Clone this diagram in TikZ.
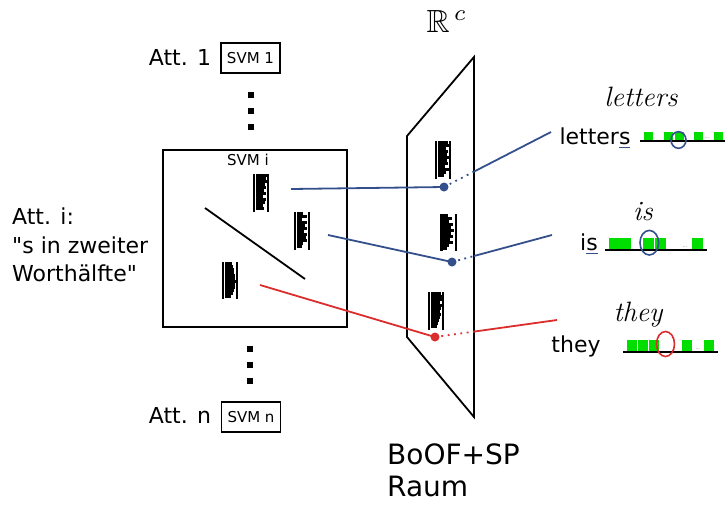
\documentclass[tikz,border=0pt]{standalone}
\usepackage{amssymb}
\usepackage{graphicx}
\usepackage{fontspec}
\setsansfont{DejaVu Sans}
\usetikzlibrary{positioning}

\definecolor{projblue}{RGB}{52,80,140}
\definecolor{projred}{RGB}{220,45,45}
\definecolor{bingreen}{RGB}{0,222,0}

\tikzset{
  txt/.style={inner sep=0pt,font=\sffamily\fontsize{22}{28.5}\selectfont},
  svmbox/.style={draw,line width=1.6pt,minimum width=59pt,minimum height=30pt,
    inner sep=0pt,font=\sffamily\fontsize{15}{18}\selectfont},
  histo/.style={minimum width=14pt,minimum height=37pt,inner sep=0pt},
  featdot/.style={circle,fill,inner sep=0pt,minimum size=9pt},
  proj/.style={line width=1.8pt},
  hidden/.style={line width=1.8pt,dash pattern=on 1.8pt off 4.6pt},
  bin/.style={fill=bingreen},
  hand/.style={inner sep=0pt,font=\rmfamily\itshape\fontsize{28}{32}\selectfont},
  vdots/.style={fill,minimum size=6pt,inner sep=0pt},
  gap/.style={inner sep=0pt,text=gray,font=\sffamily\fontsize{5}{5}\selectfont},
}

% feature histogram: name, position, bar lengths (top to bottom)
\newcommand{\featglyph}[3]{%
  \node[histo] (#1) at (#2) {};
  \foreach \w [count=\k from 0] in {#3}
    \fill ([xshift=2pt,yshift=-\k*3pt]#1.north west) rectangle ++(\w pt,-3pt);
  \draw[line width=2.4pt] (#1.north west) -- (#1.south west);
  \draw[line width=1.6pt] (#1.north east) -- (#1.south east);
}

\begin{document}
\begin{tikzpicture}[x=1pt,y=-1pt]
\useasboundingbox (0,0) rectangle (725,504);

% attribute classifiers
\node[txt,anchor=base] (att1) at (180,65) {Att. 1};
\node[svmbox] (svm1) at (250.5,58) {SVM 1};
\foreach \y [count=\i] in {95,111,127}
  \node[vdots] (up\i) at (251,\y) {};

\node[draw,line width=1.8pt,minimum width=184pt,minimum height=177pt] (svmi) at (255,238.5) {};
\node[inner sep=0pt,font=\sffamily\fontsize{15}{18}\selectfont] (svmilabel) at (248,160) {SVM i};
\draw[line width=1.8pt] (205,208) -- (305,279);
\featglyph{g1}{261,193}{11,10,11,9,10,8,10,7,10,9,7,8}
\featglyph{g2}{302,231}{6,10,5,10,8,10,7,10,9,10,6,5}
\featglyph{g3}{230,280.5}{7,8,9,9,10,10,11,10,10,9,8,6}

\node[txt,align=left,anchor=west] (atti) at (12,245)
  {Att. i:\\\textquotedbl s in zweiter\\Worthälfte\textquotedbl};

\foreach \y [count=\i] in {349,365,381}
  \node[vdots] (dn\i) at (250,\y) {};
\node[txt,anchor=base] (attn) at (180,423) {Att. n};
\node[svmbox] (svmn) at (251,417) {SVM n};

% feature space
\draw[line width=1.8pt] (407,136) -- (474,57) -- (474,417) -- (407,337) -- cycle;
\node[inner sep=0pt,font=\normalsize] (rc) at (447,21) {\scalebox{3.2}{$\mathbb{R}^{\,c}$}};
\featglyph{g4}{443,160}{10,11,8,10,9,11,9,10,7,11,8,6}
\featglyph{g5}{448.5,232.5}{5,9,6,10,8,11,8,10,7,10,6,4}
\featglyph{g6}{436,311}{10,11,11,9,11,10,9,10,9,8,7,6}

\node[anchor=north west,txt,align=left,font=\sffamily\fontsize{28}{32}\selectfont] (space) at (387,444) {BoOF+SP\\Raum};

% words
\node[txt,anchor=base] (wletters) at (595,144) {letter\textcolor{projblue}{\underline{\textcolor{black}{s}}}};
\node[txt,anchor=base] (wis) at (589,250) {i\textcolor{projblue}{\underline{\textcolor{black}{s}}}};
\node[txt,anchor=base] (wthey) at (576,352) {they};
\node[hand] (hletters) at (641,97) {letters};
\node[hand] (his) at (643,212) {is};
\node[hand] (hthey) at (638,315) {they};

% projections
\coordinate (s1) at (291,189);
\coordinate (s2) at (328,235);
\coordinate (s3) at (260,285);
\coordinate (e1) at (474,171.6);
\coordinate (e2) at (474,256);
\coordinate (e3) at (474,331.6);
\coordinate (t1) at (551,132);
\coordinate (t2) at (552,235);
\coordinate (t3) at (557,320);
\draw[proj,projblue] (s1) -- (444,187) coordinate (p1);
\draw[hidden,projblue] (p1) -- (e1);
\draw[proj,projblue] (e1) -- (t1);
\draw[proj,projblue] (s2) -- (452,262) coordinate (p2);
\draw[hidden,projblue] (p2) -- (e2);
\draw[proj,projblue] (e2) -- (t2);
\draw[proj,projred] (s3) -- (435,337) coordinate (p3);
\draw[hidden,projred] (p3) -- (e3);
\draw[proj,projred] (e3) -- (t3);
\node[featdot,projblue] (d1) at (p1) {};
\node[featdot,projblue] (d2) at (p2) {};
\node[featdot,projred] (d3) at (p3) {};

% bins
\foreach \x in {644,664,675,694,714}
  \fill[bin] (\x,132) rectangle +(9,9);
\draw[line width=1.8pt] (640,141) -- (725,141);
\node[gap] (gap1) at (707,138) {...};
\draw[line width=1.6pt,projblue] (678.5,140) ellipse [x radius=7.5pt,y radius=8.3pt];

\foreach \x in {609,620,643,655,691.5}
  \fill[bin] (\x,237.5) rectangle +(11,12.5);
\draw[line width=1.8pt] (605,250) -- (707,250);
\node[gap] (gap2) at (685,247) {...};
\draw[line width=1.6pt,projblue] (649.3,242.7) ellipse [x radius=9.3pt,y radius=12.3pt];

\foreach \x in {627,638,649,682,704}
  \fill[bin] (\x,340) rectangle +(10,12);
\draw[line width=1.8pt] (623,352) -- (718,352);
\node[gap] (gap3) at (698,349) {...};
\draw[line width=1.6pt,projred] (665.5,344) ellipse [x radius=9pt,y radius=12.5pt];
\end{tikzpicture}
\end{document}
